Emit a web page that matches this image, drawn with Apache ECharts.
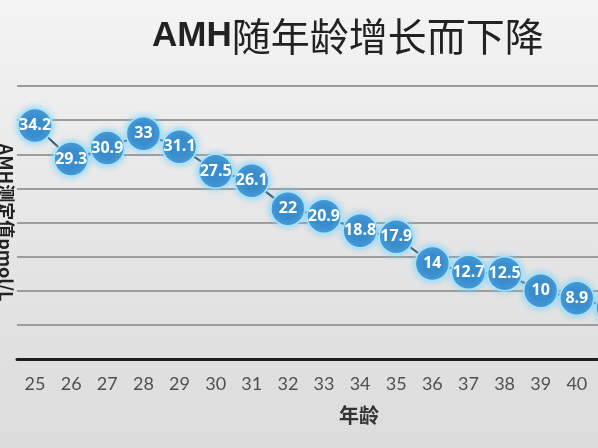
<!DOCTYPE html>
<html>
<head>
<meta charset="utf-8">
<script src="https://cdn.jsdelivr.net/npm/echarts@6/dist/echarts.min.js"></script>
<style>
  html, body { margin: 0; padding: 0; }
  #chart { width: 598px; height: 448px; }
</style>
</head>
<body>
<div id="chart"></div>
<script>
// Ages on the horizontal axis (also used as tick labels)
const ages = ['25', '26', '27', '28', '29', '30', '31', '32', '33', '34', '35', '36', '37', '38', '39', '40', '41'];
// Mean AMH value (pmol/L) at each age
const amhValues = [34.2, 29.3, 30.9, 33, 31.1, 27.5, 26.1, 22, 20.9, 18.8, 17.9, 14, 12.7, 12.5, 10, 8.9, 7.5];

const chart = echarts.init(document.getElementById('chart'));

chart.setOption({
  backgroundColor: {
    type: 'linear', x: 0, y: 0, x2: 0, y2: 1,
    colorStops: [
      { offset: 0, color: '#f4f4f4' },
      { offset: 0.5, color: '#e6e6e6' },
      { offset: 1, color: '#dcdcdc' }
    ]
  },
  animation: false,
  title: [
    {
      text: '{a|AMH}{b|随年龄增长而下降}',
      left: 152,
      top: 17,
      padding: 0,
      textStyle: {
        rich: {
          a: { fontFamily: 'Liberation Sans', fontWeight: 'bold', fontSize: 35, color: '#222' },
          b: { fontFamily: 'Noto Sans CJK SC', fontWeight: 'normal', fontSize: 39, color: '#222' }
        }
      }
    },
    {
      text: '年龄',
      left: 339,
      top: 405,
      padding: 0,
      textStyle: { fontFamily: 'Noto Sans CJK SC', fontWeight: 'bold', fontSize: 20, color: '#333' }
    }
  ],
  grid: { left: 17, right: -33, top: 86, bottom: 89, outerBoundsMode: 'none', containLabel: false },
  xAxis: {
    type: 'category',
    data: ages,
    boundaryGap: true,
    axisLine: { lineStyle: { color: '#1e1e1e', width: 3 } },
    axisTick: { show: false },
    axisLabel: {
      margin: 16,
      fontFamily: 'Lato',
      fontSize: 18,
      color: '#505050'
    }
  },
  yAxis: {
    type: 'value',
    min: 0,
    max: 40,
    interval: 5,
    name: 'AMH测定值pmol/L',
    nameLocation: 'middle',
    nameRotate: -90,
    nameGap: 2,
    nameTextStyle: { fontFamily: 'Noto Sans CJK SC', fontWeight: 'bold', fontSize: 18, color: '#222' },
    axisLine: { show: false },
    axisTick: { show: false },
    axisLabel: { show: false },
    splitLine: { lineStyle: { color: '#9c9c9c', width: 2 } }
  },
  series: [
    {
      type: 'line',
      data: amhValues,
      symbol: 'circle',
      symbolSize: 34,
      showSymbol: true,
      showAllSymbol: true,
      clip: false,
      lineStyle: { color: '#35506b', width: 2 },
      itemStyle: {
        color: '#3a8dcd',
        borderColor: '#a6e4ff',
        borderWidth: 1.5,
        shadowBlur: 6,
        shadowColor: 'rgba(120, 210, 250, 0.9)'
      },
      label: {
        show: true,
        position: 'inside',
        fontFamily: 'Open Sans',
        fontWeight: 'bold',
        fontSize: 16,
        color: '#ffffff'
      },
      labelLayout: { hideOverlap: false }
    }
  ]
});
</script>
</body>
</html>
